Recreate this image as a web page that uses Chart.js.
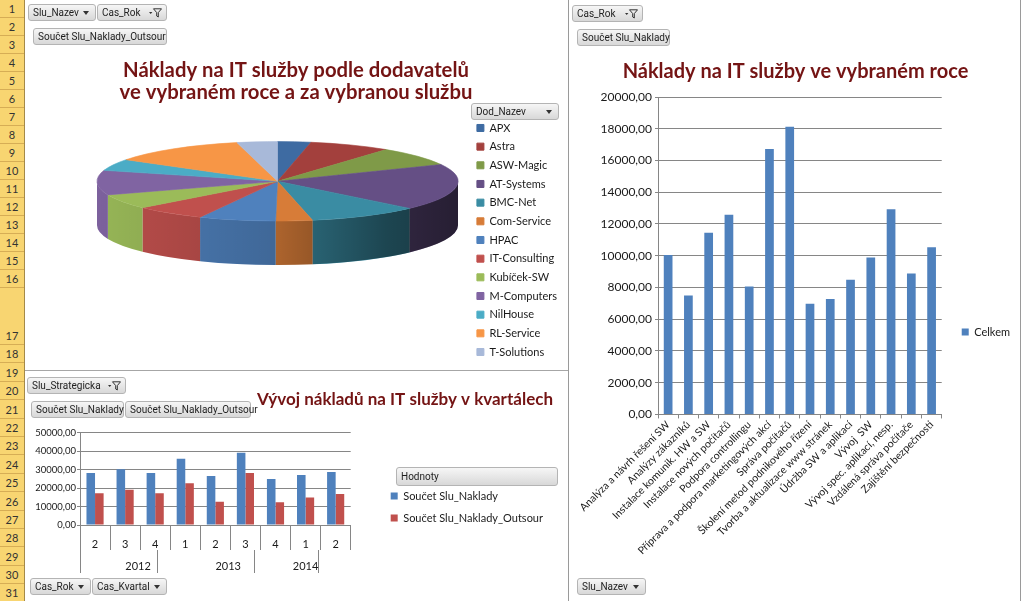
<!DOCTYPE html>
<html lang="cs">
<head>
<meta charset="utf-8">
<title>Náklady na IT služby</title>
<script src="https://cdn.jsdelivr.net/npm/chart.js@4.4.1/dist/chart.umd.min.js"></script>
<style>
  html, body { margin: 0; padding: 0; }
  body { width: 1024px; height: 601px; overflow: hidden; position: relative; background: #fff; font-family: Lato, sans-serif; }
  #rows { position: absolute; left: 0; top: 0; width: 24px; height: 601px; background: #f8d571; border-right: 1px solid #a58a48; }
  .row { box-sizing: border-box; border-bottom: 1px solid #d6ad55; font: 11px Lato, sans-serif; color: #333; display: flex; align-items: flex-end; justify-content: center; padding-bottom: 2px; }
  .box { position: absolute; }
  .vline { position: absolute; width: 1px; background: #9a9a9a; }
  .hline { position: absolute; height: 1px; background: #a6a6a6; }
  .pb { position: absolute; height: 17px; box-sizing: border-box; border: 1px solid #b4b4b4; border-radius: 3px;
        background: linear-gradient(#f6f6f6, #d8d8d8); font: 10px Roboto, sans-serif; color: #1e1e1e;
        line-height: 15px; padding: 0 4px; white-space: nowrap; }
  .pb.dd::after { content: ""; position: absolute; right: 6px; top: 6px; border-left: 3.5px solid transparent;
        border-right: 3.5px solid transparent; border-top: 4px solid #333; }
  .pb svg { position: absolute; right: 4px; top: 3px; }
</style>
</head>
<body>
<div id="rows"></div>

<div class="box" style="left:25px;top:0;width:542px;height:369px"><canvas id="dodChart"></canvas></div>
<div class="box" style="left:571px;top:0;width:449px;height:601px"><canvas id="sluzbyChart"></canvas></div>
<div class="box" style="left:25px;top:372px;width:528px;height:229px"><canvas id="kvartalChart"></canvas></div>

<div class="vline" style="left:568px;top:0;height:601px"></div>
<div class="vline" style="left:1020px;top:0;height:601px"></div>
<div class="hline" style="left:25px;top:370px;width:543px"></div>

<!-- pivot buttons -->
<div class="pb dd" style="left:28px;top:4px;width:68px">Slu_Nazev</div>
<div class="pb" style="left:97px;top:4px;width:70px">Cas_Rok<svg width="13" height="10" viewBox="0 0 13 10"><path d="M0 4h3.4L1.7 6z" fill="#333"/><path d="M4.5 0.8h8L9.3 4.6v4.4l-1.6-1V4.6z" fill="none" stroke="#333"/></svg></div>
<div class="pb" style="left:33px;top:28px;width:134px">Součet Slu_Naklady_Outsour</div>
<div class="pb dd" style="left:471px;top:103px;width:88px">Dod_Nazev</div>

<div class="pb" style="left:572px;top:5px;width:71px">Cas_Rok<svg width="13" height="10" viewBox="0 0 13 10"><path d="M0 4h3.4L1.7 6z" fill="#333"/><path d="M4.5 0.8h8L9.3 4.6v4.4l-1.6-1V4.6z" fill="none" stroke="#333"/></svg></div>
<div class="pb" style="left:577px;top:29px;width:93px">Součet Slu_Naklady</div>
<div class="pb dd" style="left:577px;top:578px;width:69px">Slu_Nazev</div>

<div class="pb" style="left:27px;top:377px;width:99px">Slu_Strategicka<svg width="13" height="10" viewBox="0 0 13 10"><path d="M0 4h3.4L1.7 6z" fill="#333"/><path d="M4.5 0.8h8L9.3 4.6v4.4l-1.6-1V4.6z" fill="none" stroke="#333"/></svg></div>
<div class="pb" style="left:31px;top:401px;width:93px">Součet Slu_Naklady</div>
<div class="pb" style="left:125px;top:401px;width:126px">Součet Slu_Naklady_Outsour</div>
<div class="pb dd" style="left:30px;top:578px;width:61px">Cas_Rok</div>
<div class="pb dd" style="left:92px;top:578px;width:75px">Cas_Kvartal</div>
<div class="pb" style="left:396px;top:467px;width:162px;height:19px;line-height:17px">Hodnoty</div>

<script>
// Pie: costs by supplier
const dodavatele = ['APX', 'Astra', 'ASW-Magic', 'AT-Systems', 'BMC-Net', 'Com-Service', 'HPAC',
  'IT-Consulting', 'Kubíček-SW', 'M-Computers', 'NilHouse', 'RL-Service', 'T-Solutions'];
const nakladyOutsour = [1070, 2630, 2800, 6800, 3580, 1180, 2480, 2300, 2160, 3600, 1700, 4400, 1300];

// Bars: costs by service
const sluzby = ['Analýza a návrh řešení SW', 'Analýzy zákazníků', 'Instalace komunik. HW a SW',
  'Instalace nových počítačů', 'Podpora controllingu', 'Příprava a podpora marketingových akcí',
  'Správa počítačů', 'Školení metod podnikového řízení', 'Tvorba a aktualizace www stránek',
  'Údržba SW a aplikací', 'Vývoj  SW', 'Vývoj spec. aplikací, nesp.', 'Vzdálená správa počítače',
  'Zajištění bezpečnosti'];
const celkem = [10050, 7490, 11440, 12580, 8060, 16720, 18130, 6980, 7280, 8480, 9880, 12930, 8880, 10540];

// Quarterly development
const kvartaly = ['2', '3', '4', '1', '2', '3', '4', '1', '2'];
const kvartalRoky = ['2012', '2012', '2012', '2013', '2013', '2013', '2013', '2014', '2014'];
const sluNaklady = [28300, 30300, 28300, 36000, 26600, 39200, 25000, 27200, 28800];
const sluOutsour = [17300, 19100, 17300, 22700, 12700, 28200, 12400, 14900, 16900];

const pieColors = ['#3e6ba2', '#a3403d', '#7f9a48', '#654f85', '#3a8ca3', '#d77c38', '#4f81bd',
  '#c0504d', '#9bbb59', '#8064a2', '#4bacc6', '#f79646', '#a8b9d9'];
const TITLE = '#741414';
const GRID = '#868686';

// excel row header
const rowHeights = [];
for (let i = 0; i < 16; i++) rowHeights.push(18);
rowHeights.push(57);
for (let i = 0; i < 14; i++) rowHeights.push(18.4);
document.getElementById('rows').innerHTML =
  rowHeights.map((h, i) => `<div class="row" style="height:${h}px">${i + 1}</div>`).join('');

Chart.defaults.font.family = 'Lato, "Open Sans", sans-serif';
Chart.defaults.font.size = 11;
Chart.defaults.color = '#1a1a1a';
Chart.defaults.animation = false;
Chart.defaults.events = [];
Chart.defaults.plugins.tooltip.enabled = false;

const fmt = v => Number(v).toFixed(2).replace('.', ',');

// empty legend title used only to push the legend items down
const spacer = top => ({ display: true, text: ' ', font: { size: 11, lineHeight: 1 }, padding: { top: top - 11, bottom: 0 } });

// squash the flat pie into an ellipse and give it a side wall
const pie3d = {
  id: 'pie3d',
  beforeDatasetsDraw(chart, args, o) {
    const arcs = chart.getDatasetMeta(0).data;
    const ctx = chart.ctx;
    const { x, y, outerRadius: r } = arcs[0];
    const d = o.depth / o.tilt;
    ctx.save();
    ctx.translate(o.cx, o.cy);
    ctx.scale(1, o.tilt);
    ctx.translate(-x, -y);
    arcs.forEach(a => {
      const lo = Math.max(a.startAngle, 0), hi = Math.min(a.endAngle, Math.PI);
      if (hi <= lo) return;
      ctx.beginPath();
      ctx.arc(x, y, r, lo, hi);
      ctx.arc(x, y + d, r, hi, lo, true);
      ctx.closePath();
      ctx.fillStyle = a.options.backgroundColor;
      ctx.fill();
    });
    const g = ctx.createLinearGradient(x - r, 0, x + r, 0);
    g.addColorStop(0, 'rgba(0,0,0,0.03)');
    g.addColorStop(0.5, 'rgba(0,0,0,0.2)');
    g.addColorStop(0.8, 'rgba(0,0,0,0.5)');
    g.addColorStop(1, 'rgba(0,0,0,0.62)');
    ctx.beginPath();
    ctx.arc(x, y, r, 0, Math.PI);
    ctx.arc(x, y + d, r, Math.PI, 0, true);
    ctx.closePath();
    ctx.fillStyle = g;
    ctx.fill();
  },
  afterDatasetsDraw(chart) { chart.ctx.restore(); }
};

new Chart(document.getElementById('dodChart'), {
  type: 'pie',
  data: {
    labels: dodavatele,
    datasets: [{ data: nakladyOutsour, backgroundColor: pieColors, borderColor: pieColors, borderWidth: 1, radius: 180.5 }]
  },
  plugins: [pie3d],
  options: {
    responsive: true, maintainAspectRatio: false,
    plugins: {
      pie3d: { cx: 252.5, cy: 181.3, tilt: 0.22, depth: 44 },
      title: {
        display: true, color: TITLE,
        text: ['Náklady na IT služby podle dodavatelů', 've vybraném roce a za vybranou službu'],
        font: { size: 20.3, weight: 'bold', lineHeight: 1.084 },
        padding: { top: 59, bottom: 12 }
      },
      legend: {
        position: 'right', align: 'start', maxWidth: 200, title: spacer(114.8),
        labels: { boxWidth: 7, boxHeight: 7, padding: 7.67, font: { size: 11 } }
      }
    }
  }
});

new Chart(document.getElementById('sluzbyChart'), {
  type: 'bar',
  data: {
    labels: sluzby,
    datasets: [{ label: 'Celkem', data: celkem, backgroundColor: '#4f81bd', barPercentage: 0.43, categoryPercentage: 1, xAxisID: 'x', yAxisID: 'y' }]
  },
  options: {
    responsive: true, maintainAspectRatio: false,
    layout: { padding: { bottom: 44 } },
    plugins: {
      title: {
        display: true, color: TITLE, text: 'Náklady na IT služby ve vybraném roce',
        font: { size: 20, weight: 'bold', lineHeight: 1.1 },
        padding: { top: 61, bottom: 14 }
      },
      legend: {
        position: 'right', align: 'start', maxWidth: 120, title: spacer(316.5),
        labels: { boxWidth: 7, boxHeight: 7, padding: 10 }
      }
    },
    scales: {
      x: {
        grid: { offset: true, drawOnChartArea: false, tickLength: 4, color: GRID },
        border: { color: GRID },
        ticks: { autoSkip: false, minRotation: 45, maxRotation: 45, padding: 0, font: { size: 10.5 } }
      },
      y: {
        min: 0, max: 20000,
        afterFit: s => { s.width = 87; },
        grid: { color: GRID, tickLength: 3 },
        border: { color: GRID },
        ticks: { stepSize: 2000, callback: fmt, padding: 3, font: { size: 12 } }
      },
      pad: {
        type: 'linear', position: 'right', grid: { display: false }, border: { display: false },
        ticks: { display: false }, afterFit: s => { s.width = 10; }
      }
    }
  }
});

// year groups for the second level of the category axis
const groups = [];
kvartalRoky.forEach((r, i) => {
  const g = groups[groups.length - 1];
  if (g && g.rok === r) g.end = i + 1; else groups.push({ rok: r, start: i, end: i + 1 });
});
const rokTicks = [];
groups.forEach((g, i) => {
  if (i === 0) rokTicks.push({ value: g.start });
  rokTicks.push({ value: (g.start + g.end) / 2, label: g.rok });
  rokTicks.push({ value: g.end });
});

new Chart(document.getElementById('kvartalChart'), {
  type: 'bar',
  data: {
    labels: kvartaly,
    datasets: [
      { label: 'Součet Slu_Naklady', data: sluNaklady, backgroundColor: '#4f81bd', xAxisID: 'x', yAxisID: 'y' },
      { label: 'Součet Slu_Naklady_Outsour', data: sluOutsour, backgroundColor: '#c0504d', xAxisID: 'x', yAxisID: 'y' }
    ]
  },
  options: {
    responsive: true, maintainAspectRatio: false,
    datasets: { bar: { categoryPercentage: 0.57, barPercentage: 1 } },
    layout: { padding: { bottom: 25 } },
    plugins: {
      title: {
        display: true, align: 'end', color: TITLE, text: 'Vývoj nákladů na IT služby v kvartálech',
        font: { size: 17, weight: 'bold', lineHeight: 1.176 },
        padding: { top: 18, bottom: 23 }
      },
      legend: {
        position: 'right', align: 'start', maxWidth: 220, title: spacer(107.5),
        labels: { boxWidth: 7, boxHeight: 7, padding: 11 }
      }
    },
    scales: {
      x: {
        weight: 0,
        afterFit: s => { s.height = 25; },
        grid: { offset: true, drawOnChartArea: false, tickLength: 25, color: GRID },
        border: { color: GRID },
        ticks: { padding: -12 }
      },
      roky: {
        type: 'linear', position: 'bottom', weight: 1, min: 0, max: kvartaly.length,
        afterBuildTicks: s => { s.ticks = rokTicks.map(t => ({ value: t.value })); },
        afterFit: s => { s.height = 26; },
        grid: {
          drawOnChartArea: false, tickLength: 23,
          color: c => (c.tick && rokTicks.some(t => t.value === c.tick.value && !t.label)) ? GRID : 'rgba(0,0,0,0)'
        },
        border: { display: false },
        ticks: {
          autoSkip: false, padding: -13.6,
          callback: v => { const t = rokTicks.find(t => t.value === v); return t && t.label ? t.label : ''; }
        }
      },
      y: {
        min: 0, max: 50000,
        afterFit: s => { s.width = 55; },
        grid: { color: GRID, tickLength: 3 },
        border: { color: GRID },
        ticks: { stepSize: 10000, callback: fmt, padding: 1, font: { size: 9.5 } }
      },
      pad: {
        type: 'linear', position: 'right', grid: { display: false }, border: { display: false },
        ticks: { display: false }, afterFit: s => { s.width = 29; }
      }
    }
  }
});
</script>
</body>
</html>
